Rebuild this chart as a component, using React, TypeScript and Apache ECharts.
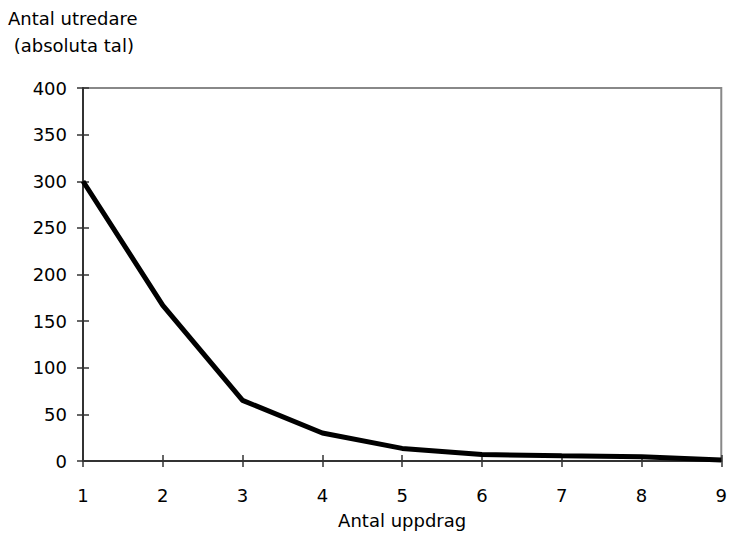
import React, { useEffect, useRef } from "react";
import * as echarts from "echarts";

const categories = ["1", "2", "3", "4", "5", "6", "7", "8", "9"];
const values = [300, 167, 65, 30, 13.5, 7, 5.5, 4.5, 1];
const yTitle = "Antal utredare\n (absoluta tal)";
const xTitle = "Antal uppdrag";

const FONT = "DejaVu Sans, Liberation Sans, Arial, sans-serif";
const FS = 18;

export default function App() {
  const ref = useRef<HTMLDivElement>(null);
  useEffect(() => {
    if (!ref.current) return;
    const chart = echarts.init(ref.current, undefined, { renderer: "svg" });
    chart.setOption({
      animation: false,
      backgroundColor: "#ffffff",
      textStyle: { fontFamily: FONT },
      title: {
        text: yTitle,
        left: 3,
        top: 0,
        textStyle: { fontFamily: FONT, fontSize: FS, fontWeight: "normal", color: "#000", lineHeight: 27 },
      },
      grid: {
        left: 83,
        right: 7,
        top: 88,
        bottom: 73,
        containLabel: false,
        show: true,
        borderColor: "#888",
        borderWidth: 2,
        backgroundColor: "transparent",
      },
      xAxis: [
        {
          type: "category",
          data: categories,
          boundaryGap: false,
          name: xTitle,
          nameLocation: "middle",
          nameGap: 50,
          nameTextStyle: { fontFamily: FONT, fontSize: FS, color: "#000" },
          axisLine: { show: true, lineStyle: { color: "#333", width: 2 } },
          axisTick: { show: true, inside: false, length: 6, lineStyle: { color: "#333", width: 1.5 } },
          axisLabel: { fontFamily: FONT, fontSize: FS, color: "#000", margin: 25 },
          splitLine: { show: false },
        },
        {
          type: "category",
          data: categories,
          boundaryGap: false,
          position: "bottom",
          axisLine: { show: false },
          axisTick: { show: true, inside: true, length: 6, lineStyle: { color: "#333", width: 1.5 } },
          axisLabel: { show: false },
          splitLine: { show: false },
        },
      ],
      yAxis: [
        {
          type: "value",
          min: 0,
          max: 400,
          interval: 50,
          axisLine: { show: true, lineStyle: { color: "#333", width: 2 } },
          axisTick: { show: true, inside: false, length: 6, lineStyle: { color: "#333", width: 1.5 } },
          axisLabel: { fontFamily: FONT, fontSize: FS, color: "#000", margin: 16 },
          splitLine: { show: false },
        },
        {
          type: "value",
          min: 0,
          max: 400,
          interval: 50,
          position: "left",
          axisLine: { show: false },
          axisTick: { show: true, inside: true, length: 6, lineStyle: { color: "#333", width: 1.5 } },
          axisLabel: { show: false },
          splitLine: { show: false },
        },
      ],
      series: [
        {
          type: "line",
          data: values,
          showSymbol: false,
          symbol: "none",
          lineStyle: { color: "#000", width: 5 },
          clip: false,
        },
      ],
    });
    return () => chart.dispose();
  }, []);
  return (
    <div
      ref={ref}
      style={{ position: "absolute", left: 0, top: 0, width: 730, height: 534 }}
    />
  );
}
